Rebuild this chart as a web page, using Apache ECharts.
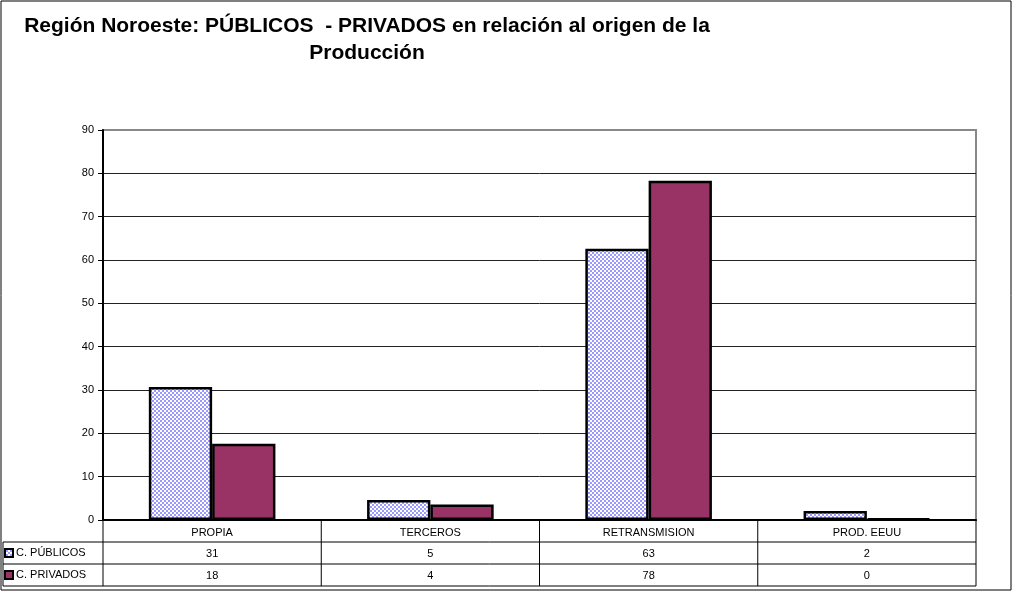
<!DOCTYPE html>
<html>
<head>
<meta charset="utf-8">
<script src="https://cdn.jsdelivr.net/npm/echarts@6/dist/echarts.min.js"></script>
<style>
  html, body { margin: 0; padding: 0; background: #fff; }
  #chart { width: 1013px; height: 593px; }
</style>
</head>
<body>
<div id="chart"></div>
<script>
const categories = ['PROPIA', 'TERCEROS', 'RETRANSMISION', 'PROD. EEUU']
const publicos = [30.7, 4.6, 62.6, 2.1]
const privados = [17.6, 3.6, 78.3, 0.3]
const seriesNames = ['C. PÚBLICOS', 'C. PRIVADOS']
const yTicks = [0, 10, 20, 30, 40, 50, 60, 70, 80, 90]

// checkered blue/white fill like the old spreadsheet pattern
function checker() {
  const c = document.createElement('canvas')
  c.width = 4; c.height = 4
  const ctx = c.getContext('2d')
  ctx.fillStyle = '#ffffff'
  ctx.fillRect(0, 0, 4, 4)
  ctx.fillStyle = '#9999ff'
  ctx.fillRect(0, 0, 2, 2)
  ctx.fillRect(2, 2, 2, 2)
  return c
}
const pubFill = { image: checker(), repeat: 'repeat' }
const privFill = '#993366'

const L = 103, R = 976, T = 130, B = 520
const rowH = 22
const font = 'Liberation Sans, Arial, sans-serif'

const chart = echarts.init(document.getElementById('chart'), null, { renderer: 'canvas' })

function tableAxis(values, offset) {
  return {
    type: 'category', data: values.map(v => String(Math.round(v))), position: 'bottom', offset,
    axisLine: { show: false }, axisTick: { show: false },
    axisLabel: { color: '#000', fontSize: 11, fontFamily: font, margin: 6 }
  }
}

const lines = []
const colX = [L]
for (let i = 1; i <= categories.length; i++) colX.push(L + (R - L) * i / categories.length)
colX.forEach((x) => lines.push({ type: 'line', shape: { x1: x, y1: B, x2: x, y2: B + rowH * 3 }, style: { stroke: '#000', lineWidth: 1 } }))
lines.push({ type: 'line', shape: { x1: 3, y1: B + rowH, x2: 3, y2: B + rowH * 3 }, style: { stroke: '#000', lineWidth: 1 } })
for (let r = 1; r <= 3; r++) {
  lines.push({ type: 'line', shape: { x1: 3, y1: B + rowH * r, x2: R, y2: B + rowH * r }, style: { stroke: '#000', lineWidth: 1 } })
}
const keys = [pubFill, privFill]
seriesNames.forEach((n, i) => {
  const cy = B + rowH * (i + 1) + rowH / 2
  lines.push({ type: 'rect', shape: { x: 5, y: cy - 4, width: 8, height: 8 }, style: { fill: keys[i], stroke: '#000', lineWidth: 2 } })
  lines.push({ type: 'text', x: 16, y: cy, style: { text: n, fontSize: 11, fontFamily: font, fill: '#000', verticalAlign: 'middle' } })
})

chart.setOption({
  backgroundColor: '#fff',
  animation: false,
  title: {
    text: 'Región Noroeste: PÚBLICOS  - PRIVADOS en relación al origen de la\nProducción',
    left: 362, top: 8, textAlign: 'center',
    textStyle: { fontSize: 21, fontWeight: 'bold', fontFamily: font, color: '#000', lineHeight: 27, align: 'center' }
  },
  grid: { left: L, right: 1013 - R, top: T, bottom: 593 - B, show: true, borderColor: '#888', borderWidth: 2, backgroundColor: '#fff' },
  xAxis: [
    {
      type: 'category', data: categories,
      axisLine: { lineStyle: { color: '#000', width: 2 } }, axisTick: { show: false },
      axisLabel: { color: '#000', fontSize: 11, fontFamily: font, margin: 7 }
    },
    tableAxis(publicos, rowH),
    tableAxis(privados, rowH * 2)
  ],
  yAxis: {
    type: 'value', min: yTicks[0], max: yTicks[yTicks.length - 1], interval: 10,
    axisLine: { show: true, lineStyle: { color: '#000', width: 2 } },
    axisTick: { show: true, length: 5, lineStyle: { color: '#000' } },
    axisLabel: { color: '#000', fontSize: 11, fontFamily: font, margin: 9 },
    splitLine: { showMaxLine: false, lineStyle: { color: '#222', width: 1 } }
  },
  series: [
    { name: seriesNames[0], type: 'bar', data: publicos, barGap: '0%', barCategoryGap: '42%',
      itemStyle: { color: pubFill, borderColor: '#000', borderWidth: 2.5 } },
    { name: seriesNames[1], type: 'bar', data: privados,
      itemStyle: { color: privFill, borderColor: '#000', borderWidth: 2.5 } }
  ],
  graphic: [
    { type: 'rect', shape: { x: 1, y: 1, width: 1010, height: 589 }, style: { fill: null, stroke: '#000', lineWidth: 1 }, z: 100 },
    ...lines
  ]
})
</script>
</body>
</html>
